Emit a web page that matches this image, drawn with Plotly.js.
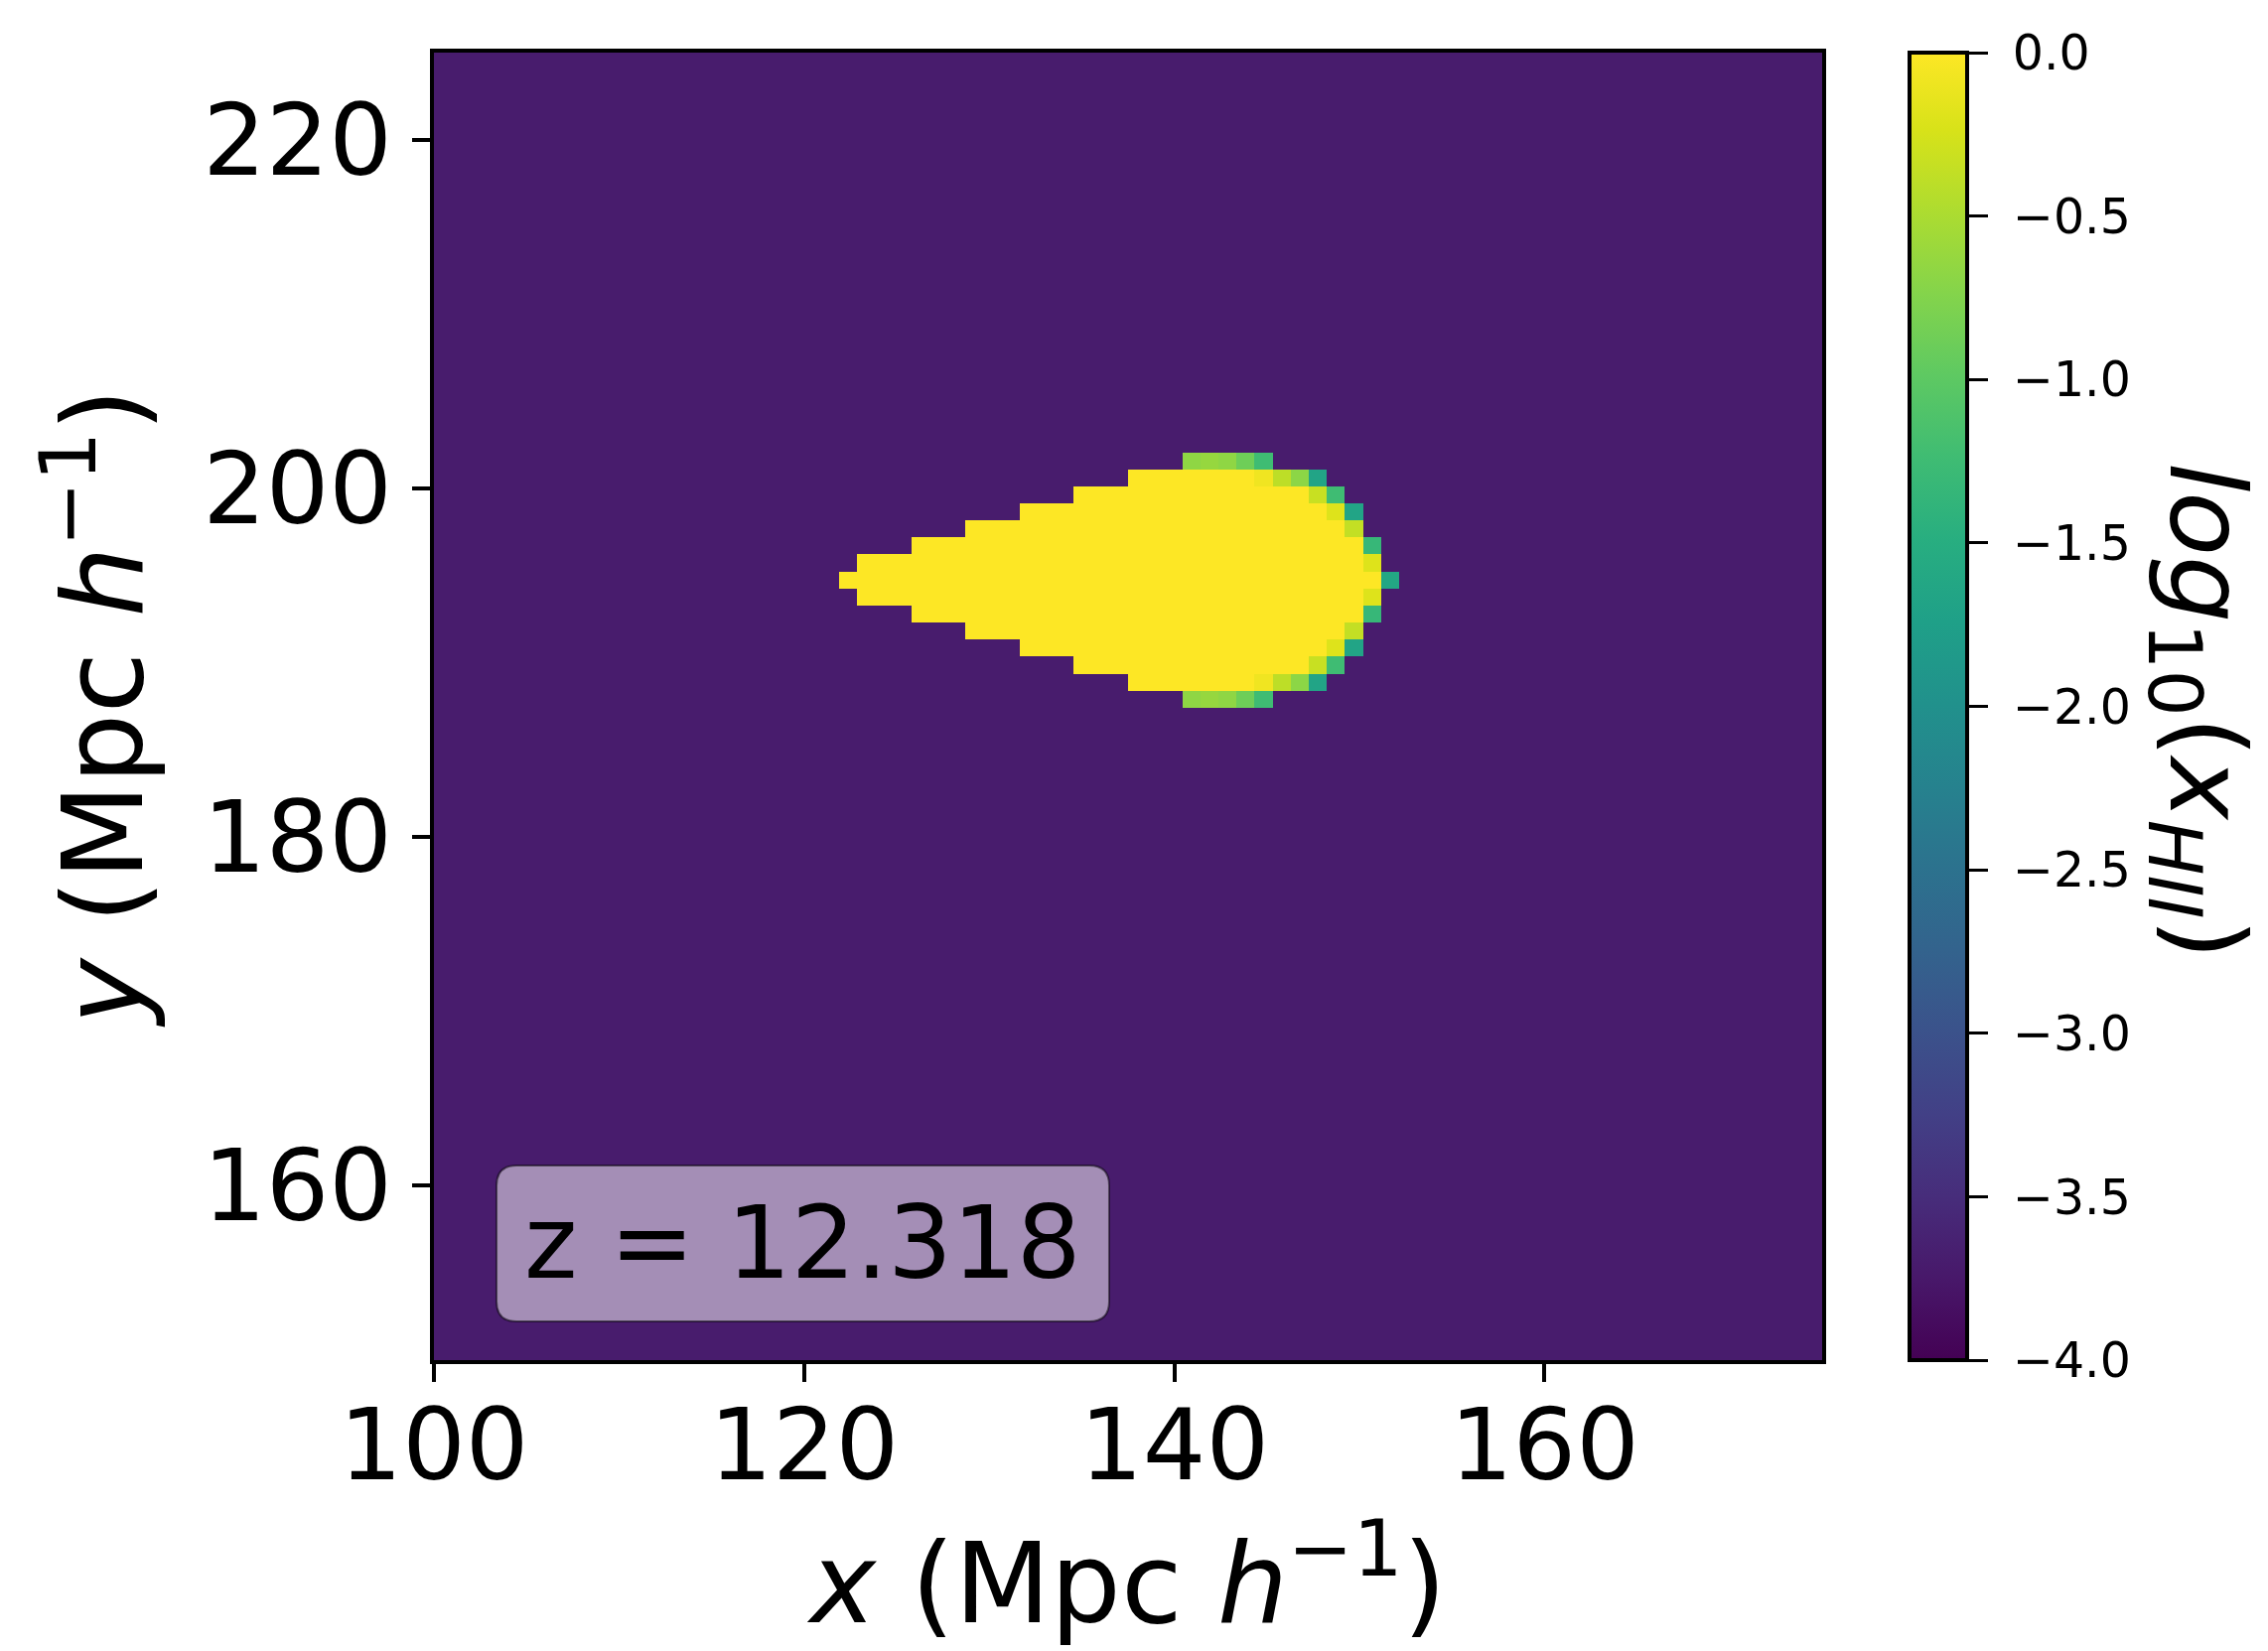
<!DOCTYPE html>
<html>
<head>
<meta charset="utf-8">
<script src="https://cdn.plot.ly/plotly-3.0.1.min.js"></script>
<style>html,body{margin:0;padding:0;background:#fff;}</style>
</head>
<body>
<div id="chart" style="width:2284px;height:1663px;"></div>
<script>
// ---- data (log10 x_HII) ----
const cellSize = 250 / 256;          // Mpc/h per grid cell
const gridX0 = 99.9;                 // centre of first grid column
const gridY0 = 149.84;               // centre of first grid row
const nCols = 78;
const nRows = 78;
const backgroundValue = -3.7;        // neutral floor outside the bubble
const bubbleCol0 = 23;               // grid column of the bubble's left tip
const bubbleRowCentre = 46;          // grid row of the bubble's axis

// rows of the ionised bubble, from top (offset +7) to bottom (offset -7)
// each: [row offset, first column (relative to tip), values...]
const bubbleRows = [
  [ 7, 19, [-0.67, -0.63, -0.67, -0.88, -1.24]],
  [ 6, 16, [0, 0, 0, 0, 0, 0, 0, -0.08, -0.39, -0.69, -1.67]],
  [ 5, 13, [0, 0, 0, 0, 0, 0, 0, 0, 0, 0, 0, 0, 0, -0.33, -1.24]],
  [ 4, 10, [0, 0, 0, 0, 0, 0, 0, 0, 0, 0, 0, 0, 0, 0, 0, 0, 0, -0.2, -1.67]],
  [ 3,  7, [0, 0, 0, 0, 0, 0, 0, 0, 0, 0, 0, 0, 0, 0, 0, 0, 0, 0, 0, 0, 0, -0.36]],
  [ 2,  4, [0, 0, 0, 0, 0, 0, 0, 0, 0, 0, 0, 0, 0, 0, 0, 0, 0, 0, 0, 0, 0, 0, 0, 0, 0, -1.33]],
  [ 1,  1, [0, 0, 0, 0, 0, 0, 0, 0, 0, 0, 0, 0, 0, 0, 0, 0, 0, 0, 0, 0, 0, 0, 0, 0, 0, 0, 0, 0, -0.2]],
  [ 0,  0, [0, 0, 0, 0, 0, 0, 0, 0, 0, 0, 0, 0, 0, 0, 0, 0, 0, 0, 0, 0, 0, 0, 0, 0, 0, 0, 0, 0, 0, 0, -1.62]],
  [-1,  1, [0, 0, 0, 0, 0, 0, 0, 0, 0, 0, 0, 0, 0, 0, 0, 0, 0, 0, 0, 0, 0, 0, 0, 0, 0, 0, 0, 0, -0.2]],
  [-2,  4, [0, 0, 0, 0, 0, 0, 0, 0, 0, 0, 0, 0, 0, 0, 0, 0, 0, 0, 0, 0, 0, 0, 0, 0, 0, -1.33]],
  [-3,  7, [0, 0, 0, 0, 0, 0, 0, 0, 0, 0, 0, 0, 0, 0, 0, 0, 0, 0, 0, 0, 0, -0.36]],
  [-4, 10, [0, 0, 0, 0, 0, 0, 0, 0, 0, 0, 0, 0, 0, 0, 0, 0, 0, -0.2, -1.67]],
  [-5, 13, [0, 0, 0, 0, 0, 0, 0, 0, 0, 0, 0, 0, 0, -0.33, -1.24]],
  [-6, 16, [0, 0, 0, 0, 0, 0, 0, -0.08, -0.39, -0.69, -1.67]],
  [-7, 19, [-0.67, -0.63, -0.67, -0.88, -1.24]]
];

const xTicks = [100, 120, 140, 160];
const yTicks = [160, 180, 200, 220];
const cbTickVals = [-4.0, -3.5, -3.0, -2.5, -2.0, -1.5, -1.0, -0.5, 0.0];
const cbTickText = ['\u22124.0', '\u22123.5', '\u22123.0', '\u22122.5', '\u22122.0', '\u22121.5', '\u22121.0', '\u22120.5', '0.0'];
const redshiftLabel = 'z = 12.318';

// ---- build the grid ----
const z = [];
for (let r = 0; r < nRows; r++) {
  const row = [];
  for (let c = 0; c < nCols; c++) row.push(backgroundValue);
  z.push(row);
}
bubbleRows.forEach(([off, start, vals]) => {
  const r = bubbleRowCentre + off;
  vals.forEach((v, i) => { z[r][bubbleCol0 + start + i] = v; });
});

const FONT = 'DejaVu Sans';
const NB = '\u00a0';

const trace = {
  type: 'heatmap',
  z: z,
  x0: gridX0, dx: cellSize,
  y0: gridY0, dy: cellSize,
  zmin: -4, zmax: 0,
  zsmooth: false,
  colorscale: 'Viridis',
  hoverinfo: 'skip',
  colorbar: {
    x: 1.063, xanchor: 'left', xpad: 0,
    y: 0.5, yanchor: 'middle', ypad: 0,
    len: 1, lenmode: 'fraction',
    thickness: 58, thicknessmode: 'pixels',
    outlinewidth: 4, outlinecolor: '#000',
    ticks: 'outside', ticklen: 19, tickwidth: 3, tickcolor: '#000',
    tickvals: cbTickVals, ticktext: cbTickText.map(t => NB + t),
    tickfont: {family: FONT, size: 49, color: '#000'}
  }
};

// rounded label box (axes-fraction coordinates)
const boxL = 0.0451, boxR = 0.4864, boxB = 0.0296, boxT = 0.1488;
const rx = 0.0143, ry = 0.0152;
const boxPath = `M ${boxL+rx},${boxB} L ${boxR-rx},${boxB} Q ${boxR},${boxB} ${boxR},${boxB+ry} ` +
  `L ${boxR},${boxT-ry} Q ${boxR},${boxT} ${boxR-rx},${boxT} L ${boxL+rx},${boxT} ` +
  `Q ${boxL},${boxT} ${boxL},${boxT-ry} L ${boxL},${boxB+ry} Q ${boxL},${boxB} ${boxL+rx},${boxB} Z`;

const axisCommon = {
  showgrid: false, zeroline: false,
  showline: true, mirror: true, linewidth: 4, linecolor: '#000',
  ticks: 'outside', ticklen: 18, tickwidth: 4, tickcolor: '#000',
  tickfont: {family: FONT, size: 100, color: '#000'}
};

const layout = {
  width: 2284, height: 1663,
  margin: {l: 437, r: 449, t: 53, b: 293, pad: 0},
  paper_bgcolor: '#fff', plot_bgcolor: '#fff',
  font: {family: FONT, color: '#000'},
  showlegend: false,
  xaxis: Object.assign({}, axisCommon, {
    range: [100, 175], tickvals: xTicks, ticktext: xTicks.map(String),
    ticklabelstandoff: -22,
    title: {text: '<i>x</i> (Mpc <i>h</i><sup>\u22121</sup>)', font: {family: FONT, size: 112, color: '#000'}, standoff: 8}
  }),
  yaxis: Object.assign({}, axisCommon, {
    range: [150, 225], tickvals: yTicks, ticktext: yTicks.map(String),
    title: {text: '<i>y</i> (Mpc <i>h</i><sup>\u22121</sup>)', font: {family: FONT, size: 112, color: '#000'}, standoff: 24}
  }),
  shapes: [{
    type: 'path', xref: 'paper', yref: 'paper', path: boxPath,
    fillcolor: 'rgba(255,255,255,0.5)', line: {color: 'rgba(0,0,0,0.5)', width: 2}, layer: 'above'
  }],
  annotations: [
    {
      xref: 'paper', yref: 'paper', x: (boxL + boxR) / 2, y: 0.0902,
      xanchor: 'center', yanchor: 'middle', showarrow: false,
      text: redshiftLabel, font: {family: FONT, size: 102, color: '#000'}
    },
    {
      xref: 'paper', yref: 'paper', x: 1.272, y: 0.4966,
      xanchor: 'center', yanchor: 'middle', showarrow: false, textangle: 90,
      text: '<i>log</i><sub>10</sub>(<i>x</i><sub><i>HII</i></sub>)',
      font: {family: FONT, size: 106, color: '#000'}
    }
  ]
};

Plotly.newPlot('chart', [trace], layout, {staticPlot: true, displayModeBar: false});
</script>
</body>
</html>
